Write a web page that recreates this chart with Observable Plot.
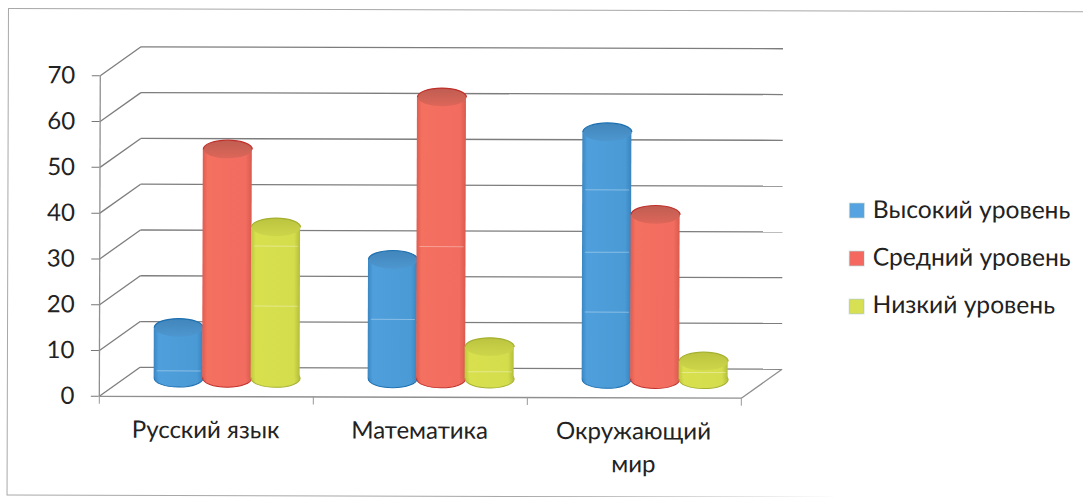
<!DOCTYPE html>
<html lang="ru">
<head>
<meta charset="utf-8">
<style>
html,body{margin:0;padding:0;background:#fff;overflow:hidden}
svg{display:block;transform-origin:0 0;transform:rotate(0.17deg)}
</style>
<script src="https://cdn.jsdelivr.net/npm/d3@7"></script>
<script src="https://cdn.jsdelivr.net/npm/@observablehq/plot@0.6"></script>
</head>
<body>
<div id="chart"></div>
<script>
const categories = ["Русский язык", "Математика", "Окружающий\nмир"];
const seriesNames = ["Высокий уровень", "Средний уровень", "Низкий уровень"];
const high = [11, 26, 54];
const middle = [50, 61.5, 36];
const low = [33, 7, 4];
const yTicks = [0, 10, 20, 30, 40, 50, 60, 70];
const xTicks = [0, 1, 2, 3];
const sheens = [
  {s: 0, g: 0, v: 5.6}, {s: 2, g: 0, v: 19.8}, {s: 2, g: 0, v: 32.9},
  {s: 0, g: 1, v: 17}, {s: 1, g: 1, v: 32.9}, {s: 2, g: 1, v: 5.6},
  {s: 0, g: 2, v: 18.7}, {s: 0, g: 2, v: 31.8}, {s: 0, g: 2, v: 45.4}, {s: 2, g: 2, v: 5.6}
];
const bodyColors = [["#3a86c2", "#4f9fdc", "#4a9ad6", "#3a84bd"], ["#e05c50", "#f4705f", "#f26c60", "#d95a4e"], ["#bcc83e", "#d8e04e", "#d4dd4c", "#b4bf3a"]];
const capColors = [["#4186bb", "#4d96cf"], ["#bf5d52", "#dd6659"], ["#bcc440", "#cdd64a"]];
const rimColors = ["#1c6fb0", "#c0302a", "#a5b030"];
const swatchColors = ["#55a3e0", "#f4685f", "#d6e052"];

const values = [high, middle, low];
const depthX = 0.19, depthY = 6.35;          // back wall offset, in x and y scale units
const baseY = 4.05, centerX = 0.597, step = 0.2266, halfW = 0.1145;
const RY = 0.37, K = 0.5523;
const ellipse = {
  draw(c, size) {
    const rx = Math.sqrt(size / Math.PI), ry = rx * RY;
    c.moveTo(-rx, 0);
    c.bezierCurveTo(-rx, -ry * K, -rx * K, -ry, 0, -ry);
    c.bezierCurveTo(rx * K, -ry, rx, -ry * K, rx, 0);
    c.bezierCurveTo(rx, ry * K, rx * K, ry, 0, ry);
    c.bezierCurveTo(-rx * K, ry, -rx, ry * K, -rx, 0);
    c.closePath();
  }
};
const upperArc = {
  draw(c, size) {
    const rx = Math.sqrt(size / Math.PI), ry = rx * RY;
    c.moveTo(-rx, 0);
    c.bezierCurveTo(-rx, -ry * K, -rx * K, -ry, 0, -ry);
    c.bezierCurveTo(rx * K, -ry, rx, -ry * K, rx, 0);
  }
};
const cx = (g, s) => g + centerX + (s - 1) * step;
const walls = yTicks.flatMap(v => [
  {x1: 0, y1: v, x2: depthX, y2: v + depthY},
  {x1: depthX, y1: v + depthY, x2: 3 + depthX, y2: v + depthY}
]);
const floor = [
  {x1: 0, y1: 0, x2: 3, y2: 0},
  {x1: 3, y1: 0, x2: 3 + depthX, y2: depthY},
  {x1: 0, y1: 0, x2: 0, y2: 70}
];
const cylinders = seriesNames.flatMap((name, s) => {
  const rows = categories.map((c, g) => ({g, x: cx(g, s), top: baseY + values[s][g]}));
  return [
    Plot.dot(rows, {x: "x", y: baseY, r: 24.5, symbol: ellipse, fill: `url(#body${s})`, stroke: rimColors[s], strokeWidth: 1}),
    Plot.rect(rows, {x1: d => d.x - halfW, x2: d => d.x + halfW, y1: baseY, y2: "top", fill: `url(#body${s})`}),
    Plot.dot(rows, {x: "x", y: "top", r: 24.5, symbol: ellipse, fill: `url(#cap${s})`}),
    Plot.dot(rows, {x: "x", y: "top", r: 24.5, symbol: upperArc, fill: "none", stroke: rimColors[s], strokeWidth: 1.2}),
    Plot.link(sheens.filter(d => d.s === s), {
      x1: d => cx(d.g, s) - halfW * 0.9, x2: d => cx(d.g, s) + halfW * 0.9,
      y1: "v", y2: "v", stroke: "#fff", strokeOpacity: 0.35, strokeWidth: 1
    })
  ];
});
const legendRows = seriesNames.map((name, i) => ({name, i}));
const plot = Plot.plot({
  width: 1083, height: 497,
  marginLeft: 100, marginRight: 341, marginTop: 75, marginBottom: 101.5,
  x: {domain: [0, 3], axis: null},
  y: {domain: [0, 70], axis: null},
  style: {fontFamily: "Lato, 'Open Sans', sans-serif", fontSize: "24px", background: "#fff", overflow: "visible"},
  marks: [
    Plot.frame({insetLeft: -92, insetTop: -67, insetRight: -360, insetBottom: -99, stroke: "#a8a8a8", strokeWidth: 1}),
    Plot.link(walls, {x1: "x1", y1: "y1", x2: "x2", y2: "y2", stroke: "#7d7d7d", strokeWidth: 1.3}),
    Plot.link(floor, {x1: "x1", y1: "y1", x2: "x2", y2: "y2", stroke: "#8f8f8f", strokeWidth: 1.3}),
    Plot.axisY({ticks: yTicks, label: null, tickSize: 8, tickPadding: 17, stroke: "#777", fill: "#222", fontSize: 24}),
    Plot.axisX({ticks: xTicks, tickFormat: () => "", label: null, tickSize: 8, stroke: "#999"}),
    ...cylinders,
    Plot.text(categories, {
      x: (d, g) => g + 0.5 - 0.003, y: 0, text: d => d, dy: 18, lineAnchor: "top", lineHeight: 1.375,
      fontSize: 24, fill: "#222", textAnchor: "middle"
    }),
    ...legendRows.map(d => Plot.dot([d], {
      frameAnchor: "top-left", dx: 757, dy: 132.5 + d.i * 48, symbol: "square", r: 8.2, fill: swatchColors[d.i], stroke: "#8aa", strokeOpacity: 0.3
    })),
    ...legendRows.map(d => Plot.text([d], {
      frameAnchor: "top-left", dx: 773, dy: 132 + d.i * 47.5, text: "name", textAnchor: "start", lineAnchor: "middle", fontSize: 24.6, fill: "#222"
    }))
  ]
});
const defs = d3.create("svg:defs");
bodyColors.forEach((stops, s) => {
  const g = defs.append("linearGradient").attr("id", `body${s}`).attr("x1", 0).attr("x2", 1).attr("y1", 0).attr("y2", 0);
  [0, 0.1, 0.88, 1].forEach((o, i) => g.append("stop").attr("offset", o).attr("stop-color", stops[i]));
});
capColors.forEach((stops, s) => {
  const g = defs.append("linearGradient").attr("id", `cap${s}`).attr("x1", 0).attr("x2", 0).attr("y1", 0).attr("y2", 1);
  stops.forEach((c, i) => g.append("stop").attr("offset", i).attr("stop-color", c));
});
plot.insertBefore(defs.node(), plot.firstChild);
document.getElementById("chart").append(plot);
</script>
</body>
</html>
